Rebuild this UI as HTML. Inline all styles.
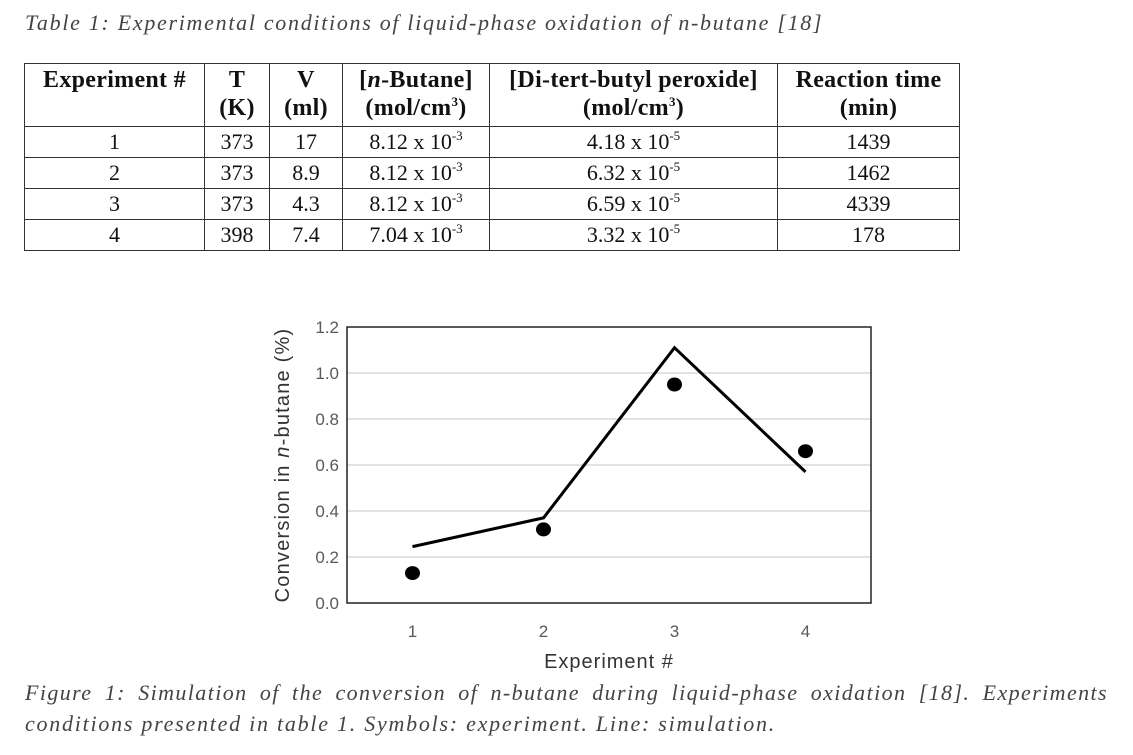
<!DOCTYPE html>
<html><head><meta charset="utf-8"><style>
body{margin:0;width:1133px;height:755px;background:#fff;position:relative;overflow:hidden;font-family:"Liberation Serif",serif;}
.cap{position:absolute;left:25px;font-style:italic;color:#444;font-size:22px;letter-spacing:1.7px;white-space:nowrap;}
table{position:absolute;left:24px;top:63px;border-collapse:collapse;font-size:22px;color:#111;}
td,th{border:1.5px solid #333;text-align:center;padding:0;line-height:28px;}
th{font-weight:bold;vertical-align:top;height:60px;line-height:28px;padding-top:2px;font-size:24px;letter-spacing:0.3px;}
td{height:30px;}
sup{font-size:13px;vertical-align:9px;line-height:0}
</style></head><body>
<div class="cap" style="top:10px;">Table 1: Experimental conditions of liquid-phase oxidation of <i>n</i>-butane [18]</div>
<table>
<tr>
<th style="width:179px">Experiment #</th><th style="width:64px">T<br>(K)</th><th style="width:72px">V<br>(ml)</th><th style="width:146px">[<i>n</i>-Butane]<br>(mol/cm<sup>3</sup>)</th><th style="width:287px">[Di-tert-butyl peroxide]<br>(mol/cm<sup>3</sup>)</th><th style="width:181px">Reaction time<br>(min)</th></tr>
<tr><td>1</td><td>373</td><td>17</td><td>8.12 x 10<sup>-3</sup></td><td>4.18 x 10<sup>-5</sup></td><td>1439</td></tr>
<tr><td>2</td><td>373</td><td>8.9</td><td>8.12 x 10<sup>-3</sup></td><td>6.32 x 10<sup>-5</sup></td><td>1462</td></tr>
<tr><td>3</td><td>373</td><td>4.3</td><td>8.12 x 10<sup>-3</sup></td><td>6.59 x 10<sup>-5</sup></td><td>4339</td></tr>
<tr><td>4</td><td>398</td><td>7.4</td><td>7.04 x 10<sup>-3</sup></td><td>3.32 x 10<sup>-5</sup></td><td>178</td></tr>
</table>
<svg id="chart" width="1133" height="755" style="position:absolute;left:0;top:0" font-family="Liberation Sans, sans-serif"></svg>
<div>
<div class="cap" style="top:680px;width:1083px;text-align:justify;text-align-last:justify;letter-spacing:1.4px;white-space:normal;">Figure 1: Simulation of the conversion of <i>n</i>-butane during liquid-phase oxidation [18]. Experiments</div>
<div class="cap" style="top:711px;letter-spacing:1.75px;">conditions presented in table 1. Symbols: experiment. Line: simulation.</div>
</div>
<script>
const categories=["1","2","3","4"];
const simulation=[0.245,0.37,1.11,0.57];
const experiment=[0.13,0.32,0.95,0.66];
const yTicks=[0,0.2,0.4,0.6,0.8,1.0,1.2];
const NS="http://www.w3.org/2000/svg";
const svg=document.getElementById('chart');
const L=347,R=871,T=327,B=603,yMax=1.2;
const band=(R-L)/categories.length;
const x=i=>L+band*(i+0.5);
const y=v=>B-(v/yMax)*(B-T);
function mk(t,a){const e=document.createElementNS(NS,t);for(const k in a)e.setAttribute(k,a[k]);svg.appendChild(e);return e;}
yTicks.forEach(v=>{
 if(v>0&&v<yMax){const g=mk('line',{x1:L,x2:R,y1:y(v),y2:y(v),stroke:'#d9d9d9','stroke-width':1.5});
 
 }
 const t=mk('text',{x:L-8,y:y(v)+6,'text-anchor':'end','font-size':17,fill:'#595959'});
 t.textContent=v.toFixed(1);
 
 
});
const box=mk('rect',{x:L,y:T,width:R-L,height:B-T,fill:'none',stroke:'#222','stroke-width':1.5});


categories.forEach((c,i)=>{
 const t=mk('text',{x:x(i),y:637,'text-anchor':'middle','font-size':17,fill:'#595959'});
 t.textContent=c;
 
 
});
const line=mk('polyline',{points:simulation.map((v,i)=>x(i)+','+y(v)).join(' '),fill:'none',stroke:'#000','stroke-width':3});


experiment.forEach((v,i)=>{
 const p=mk('ellipse',{cx:x(i),cy:y(v),rx:7.5,ry:7,fill:'#000'});
 
 
});
const xt=mk('text',{x:(L+R)/2,y:668,'text-anchor':'middle','font-size':20,'letter-spacing':1,fill:'#333'});
xt.textContent='Experiment #';


const yt=mk('text',{x:0,y:0,transform:'translate(289,465) rotate(-90)','text-anchor':'middle','font-size':20,'letter-spacing':1.2,fill:'#333'});
yt.innerHTML='Conversion in <tspan font-style="italic">n</tspan>-butane (%)';


</script>
</body></html>
